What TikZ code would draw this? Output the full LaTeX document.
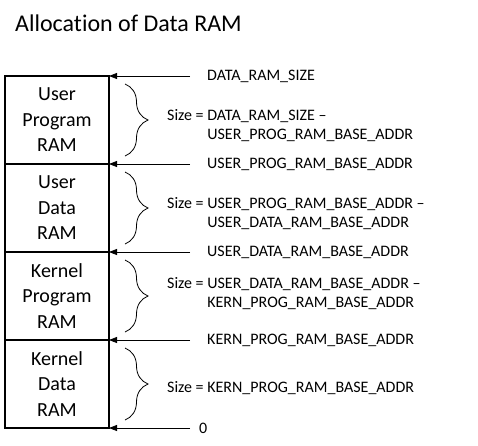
\documentclass[tikz,border=0pt]{standalone}
\usepackage{fontspec}
\setmainfont{Carlito}[Ligatures={NoCommon}]
\usetikzlibrary{arrows.meta,decorations.pathreplacing}
\begin{document}
\begin{tikzpicture}[x=1pt,y=-1pt,
 mem/.style={draw,line width=1.4pt,minimum width=104pt,minimum height=88pt,inner sep=0pt,outer sep=0pt,align=center,font=\fontsize{20}{25.5}\selectfont,anchor=north west},
 ptr/.style={-{Triangle[length=8pt,width=6pt]},line width=0.8pt},
 brc/.style={decorate,decoration={brace,amplitude=23pt},line width=0.8pt},
 lbl/.style={anchor=base west,inner sep=0pt,align=left,font=\fontsize{16}{19}\selectfont},
 ttl/.style={anchor=base west,inner sep=0pt,font=\fontsize{24}{28}\selectfont}]
\useasboundingbox (0,0) rectangle (478,445);

\node[ttl] (title) at (15,31) {Allocat\kern0pt ion of Data RAM};

\node[mem] (b1) at (5,76)  {User\\Program\\RAM};
\node[mem] (b2) at (5,164) {User\\Data\\RAM};
\node[mem] (b3) at (5,252) {Kernel\\Program\\RAM};
\node[mem] (b4) at (5,340) {Kernel\\Data\\RAM};

\coordinate (a0) at (190,76);
\coordinate (a1) at (190,164);
\coordinate (a2) at (190,252);
\coordinate (a3) at (190,340);
\coordinate (a4) at (190,428);
\draw[ptr] (a0) -- (b1.north east);
\draw[ptr] (a1) -- (b1.south east);
\draw[ptr] (a2) -- (b2.south east);
\draw[ptr] (a3) -- (b3.south east);
\draw[ptr] (a4) -- (b4.south east);

\node[lbl] (l0) at (207,80)  {DATA\_RAM\_SIZE};
\node[lbl] (l1) at (207,168) {USER\_PROG\_RAM\_BASE\_ADDR};
\node[lbl] (l2) at (207,256) {USER\_DATA\_RAM\_BASE\_ADDR};
\node[lbl] (l3) at (207,344) {KERN\_PROG\_RAM\_BASE\_ADDR};
\node[lbl] (l4) at (199,433) {0};

\coordinate (r1t) at (125,84);  \coordinate (r1b) at (125,156);
\coordinate (r2t) at (125,172); \coordinate (r2b) at (125,244);
\coordinate (r3t) at (125,260); \coordinate (r3b) at (125,332);
\coordinate (r4t) at (125,348); \coordinate (r4b) at (125,420);
\draw[brc] (r1t) -- (r1b);
\draw[brc] (r2t) -- (r2b);
\draw[brc] (r3t) -- (r3b);
\draw[brc] (r4t) -- (r4b);

\node[lbl] (s1) at (167,139) {Size = DATA\_RAM\_SIZE --\\\hphantom{Size = }USER\_PROG\_RAM\_BASE\_ADDR};
\node[lbl] (s2) at (167,227) {Size = USER\_PROG\_RAM\_BASE\_ADDR --\\\hphantom{Size = }USER\_DATA\_RAM\_BASE\_ADDR};
\node[lbl] (s3) at (167,307) {Size = USER\_DATA\_RAM\_BASE\_ADDR --\\\hphantom{Size = }KERN\_PROG\_RAM\_BASE\_ADDR};
\node[lbl] (s4) at (167,392) {Size = KERN\_PROG\_RAM\_BASE\_ADDR};
\end{tikzpicture}
\end{document}
